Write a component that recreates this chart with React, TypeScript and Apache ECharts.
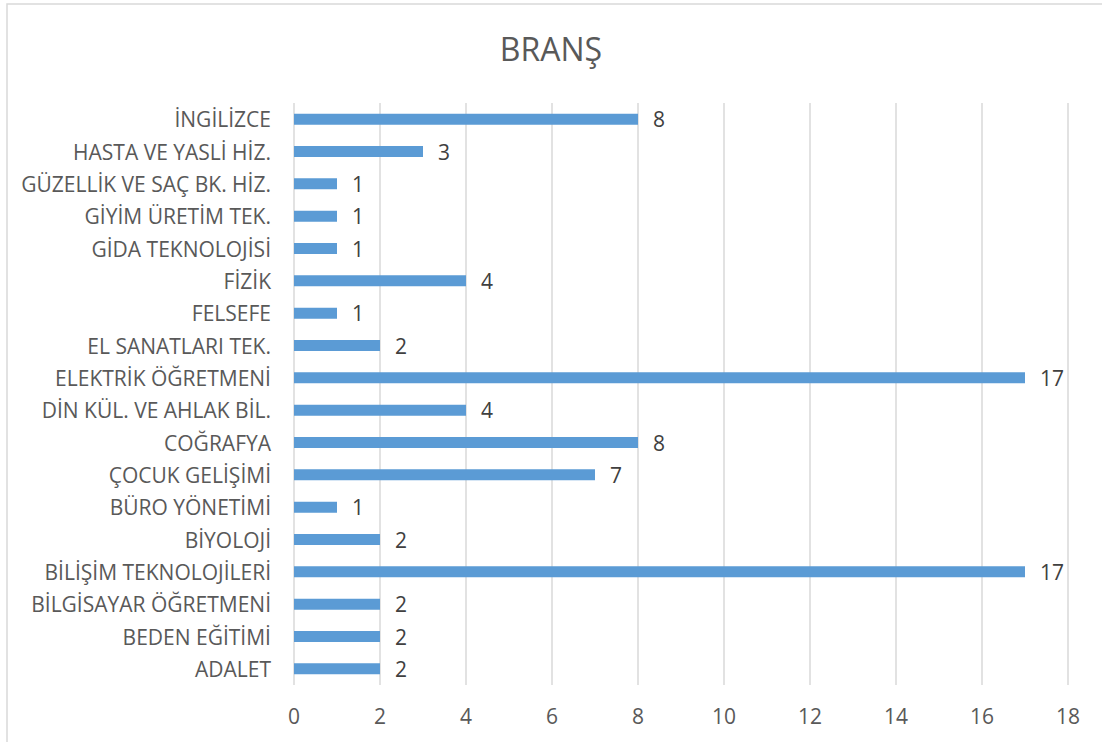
import React, { useEffect, useRef } from "react";
import * as echarts from "echarts";

const categories = [
  "ADALET",
  "BEDEN EĞİTİMİ",
  "BİLGİSAYAR ÖĞRETMENİ",
  "BİLİŞİM TEKNOLOJİLERİ",
  "BİYOLOJİ",
  "BÜRO YÖNETİMİ",
  "ÇOCUK GELİŞİMİ",
  "COĞRAFYA",
  "DİN KÜL. VE AHLAK BİL.",
  "ELEKTRİK ÖĞRETMENİ",
  "EL SANATLARI TEK.",
  "FELSEFE",
  "FİZİK",
  "GİDA TEKNOLOJİSİ",
  "GİYİM ÜRETİM TEK.",
  "GÜZELLİK VE SAÇ BK. HİZ.",
  "HASTA VE YASLİ HİZ.",
  "İNGİLİZCE",
];
const values = [2, 2, 2, 17, 2, 1, 7, 8, 4, 17, 2, 1, 4, 1, 1, 1, 3, 8];

const FONT = "'Open Sans', 'Noto Sans', sans-serif";
const TEXT = "#595959";

export default function App() {
  const ref = useRef<HTMLDivElement>(null);
  useEffect(() => {
    const chart = echarts.init(ref.current!, null, { renderer: "svg" });
    chart.setOption({
      animation: false,
      backgroundColor: "#ffffff",
      title: {
        text: "BRANŞ",
        left: "center",
        top: 27,
        textStyle: { fontFamily: FONT, fontSize: 32, fontWeight: "normal", color: TEXT },
      },
      graphic: [
        {
          type: "rect",
          shape: { x: 7, y: 4, width: 1200, height: 800 },
          style: { fill: "none", stroke: "#d9d9d9", lineWidth: 1.5 },
          silent: true,
        },
      ],
      grid: { left: 294, right: 34, top: 103, bottom: 57 },
      xAxis: {
        type: "value",
        min: 0,
        max: 18,
        interval: 2,
        axisLine: { show: false },
        axisTick: { show: false },
        splitLine: { show: true, lineStyle: { color: "#d9d9d9", width: 1.5 } },
        axisLabel: { color: TEXT, fontFamily: FONT, fontSize: 21, margin: 20 },
      },
      yAxis: {
        type: "category",
        data: categories,
        axisLine: { show: false },
        axisTick: { show: false },
        axisLabel: { color: TEXT, fontFamily: FONT, fontSize: 21, margin: 23 },
      },
      series: [
        {
          type: "bar",
          data: values,
          barWidth: 11,
          itemStyle: { color: "#5B9BD5" },
          label: {
            show: true,
            position: "right",
            distance: 15,
            color: "#404040",
            fontFamily: FONT,
            fontSize: 21,
          },
        },
      ],
    });
    return () => chart.dispose();
  }, []);
  return (
    <div
      ref={ref}
      style={{ position: "fixed", left: 0, top: 0, width: 1102, height: 742 }}
    />
  );
}
